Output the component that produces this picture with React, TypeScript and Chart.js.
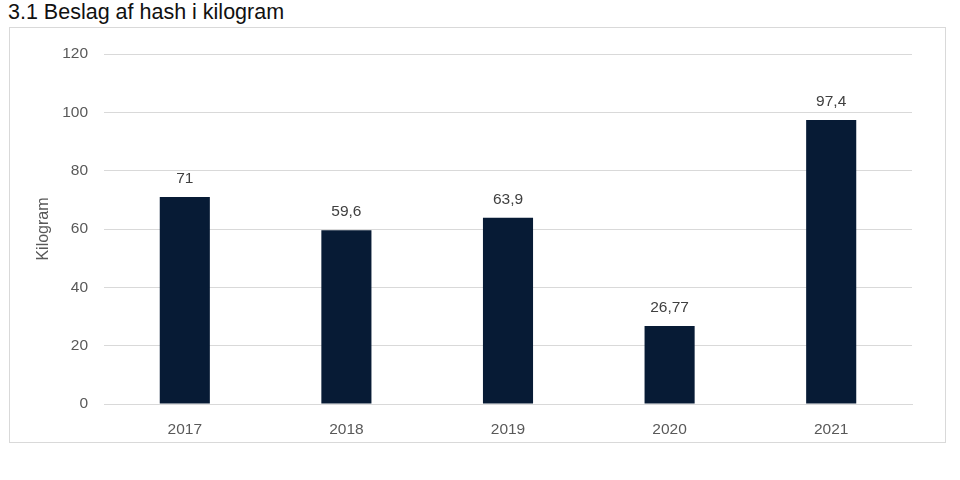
import React, { useEffect, useRef } from "react";
import { Chart, registerables } from "chart.js";

Chart.register(...registerables);

const categories = ["2017", "2018", "2019", "2020", "2021"];
const values = [71, 59.6, 63.9, 26.77, 97.4];
const yTicks = [0, 20, 40, 60, 80, 100, 120];
const titleText = "3.1 Beslag af hash i kilogram";
const yAxisTitle = "Kilogram";

const FONT = "'Liberation Sans', Arial, sans-serif";

const valueLabels = {
  id: "valueLabels",
  afterDatasetsDraw(chart: any) {
    const ctx = chart.ctx;
    const meta = chart.getDatasetMeta(0);
    ctx.save();
    ctx.fillStyle = "#404040";
    ctx.font = `15.5px ${FONT}`;
    ctx.textAlign = "center";
    ctx.textBaseline = "middle";
    meta.data.forEach((bar: any, i: number) => {
      const txt = String(values[i]).replace(".", ",");
      ctx.fillText(txt, bar.x, bar.y - 18);
    });
    ctx.restore();
  },
};

export default function App() {
  const ref = useRef<HTMLCanvasElement>(null);
  useEffect(() => {
    if (!ref.current) return;
    const chart = new Chart(ref.current, {
      type: "bar",
      data: {
        labels: categories,
        datasets: [
          {
            data: values,
            backgroundColor: "#071b35",
            barPercentage: 1,
            categoryPercentage: 0.31,
          },
        ],
      },
      options: {
        animation: false,
        responsive: false,
        maintainAspectRatio: false,
        layout: { padding: { left: 24, right: 33, top: 26, bottom: 0 } },
        plugins: {
          legend: { display: false },
          tooltip: { enabled: false },
        },
        scales: {
          x: {
            grid: { display: false, drawTicks: false },
            border: { display: true, color: "#d9d9d9", width: 1 },
            ticks: {
              color: "#595959",
              font: { family: FONT, size: 15.5 },
              padding: 16,
            },
            afterFit: (s: any) => {
              s.height = 38;
            },
          },
          y: {
            min: 0,
            max: 120,
            afterBuildTicks: (s: any) => {
              s.ticks = yTicks.map((v) => ({ value: v }));
            },
            grid: { color: "#d9d9d9", drawTicks: false },
            border: { display: false },
            ticks: {
              color: "#595959",
              font: { family: FONT, size: 15.5 },
              padding: 16,
            },
            title: {
              display: true,
              text: yAxisTitle,
              color: "#595959",
              font: { family: FONT, size: 16 },
              padding: 0,
            },
            afterFit: (s: any) => {
              s.width = 70;
            },
          },
        },
      },
      plugins: [valueLabels],
    });
    return () => chart.destroy();
  }, []);

  return (
    <div style={{ position: "fixed", left: 0, top: 0, width: 960, height: 480, background: "#fff" }}>
      <div
        style={{
          position: "absolute",
          left: 8,
          top: 1,
          fontFamily: FONT,
          fontSize: 21.5,
          lineHeight: "22px",
          color: "#111",
          whiteSpace: "nowrap",
        }}
      >
        {titleText}
      </div>
      <div
        style={{
          position: "absolute",
          left: 9,
          top: 27,
          width: 937,
          height: 416,
          border: "1px solid #d9d9d9",
          boxSizing: "border-box",
        }}
      >
        <canvas ref={ref} width={935} height={414} style={{ display: "block", width: 935, height: 414 }} />
      </div>
    </div>
  );
}
